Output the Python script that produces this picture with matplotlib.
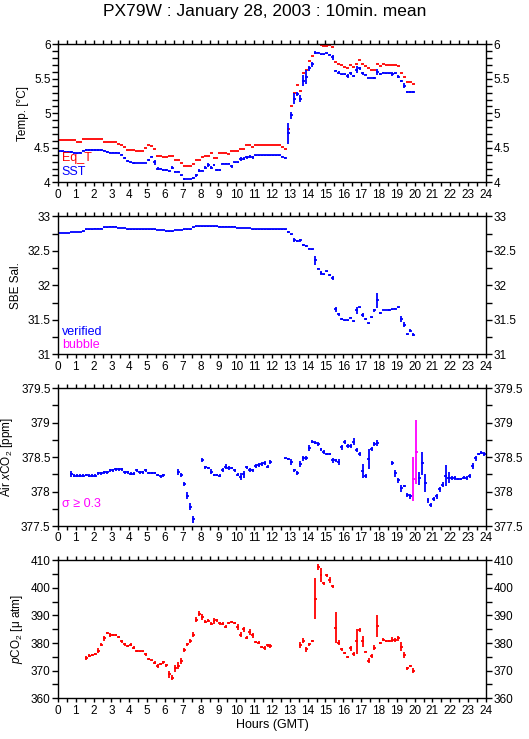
import numpy as np
import matplotlib
matplotlib.use("Agg")
import matplotlib.pyplot as plt
from matplotlib.ticker import MultipleLocator

nan = np.nan

# 10-minute bins, one row per hour (6 bins), starting at 00:00 GMT
eq_t = [
    4.61, 4.61, 4.61, 4.61, 4.61, 4.61,
    4.58, 4.58, 4.63, 4.63, 4.63, 4.63,
    4.63, 4.63, 4.63, 4.59, 4.59, 4.59,
    4.59, 4.58, 4.56, 4.54, 4.51, 4.47,
    4.47, 4.47, 4.45, 4.45, 4.45, 4.50,
    4.54, 4.52, 4.49, 4.38, 4.38, 4.36,
    4.36, 4.38, 4.38, 4.33, 4.33, 4.28,
    4.24, 4.24, 4.24, 4.26, 4.33, 4.33,
    4.36, 4.38, 4.38, 4.42, 4.35, 4.35,
    4.42, 4.42, 4.43, 4.41, 4.45, 4.45,
    4.46, 4.49, 4.49, 4.54, 4.54, 4.51,
    4.54, 4.54, 4.54, 4.54, 4.54, 4.54,
    4.54, 4.54, 4.54, 4.51, 4.49, 4.78,
    5.10, 5.30, 5.41, 5.33, 5.58, 5.63,
    5.76, 5.83, 6.00, 6.00, 5.99, 5.98,
    5.98, 5.99, 5.96, 5.75, 5.72, 5.70,
    5.67, 5.65, 5.70, 5.67, 5.72, 5.78,
    5.72, 5.68, 5.65, 5.63, 5.63, 5.72,
    5.68, 5.72, 5.70, 5.705, 5.70, 5.705,
    5.68, 5.59, 5.53, 5.45, 5.45, 5.43,
]

sst = [
    4.45, 4.45, 4.44, 4.44, 4.44, 4.43,
    4.42, 4.43, 4.46, 4.47, 4.47, 4.47,
    4.47, 4.47, 4.47, 4.46, 4.44, 4.43,
    4.43, 4.43, 4.42, 4.40, 4.35, 4.31,
    4.29, 4.28, 4.28, 4.28, 4.28, 4.28,
    4.33, 4.37, 4.29, 4.20, 4.20, 4.18,
    4.18, 4.16, 4.21, 4.155, 4.155, 4.10,
    4.05, 4.05, 4.05, 4.06, 4.10, 4.17,
    4.17, 4.21, 4.25, 4.21, 4.25, 4.18,
    4.18, 4.27, 4.27, 4.27, 4.23, 4.29,
    4.29, 4.34, 4.34, 4.36, 4.37, 4.36,
    4.39, 4.39, 4.39, 4.39, 4.39, 4.39,
    4.39, 4.39, 4.39, 4.37, 4.35, 4.71,
    4.97, 5.21, 5.28, 5.21, 5.47, 5.53,
    5.65, 5.71, 5.88, 5.88, 5.855, 5.855,
    5.87, 5.85, 5.81, 5.62, 5.59, 5.565,
    5.565, 5.54, 5.58, 5.54, 5.63, 5.65,
    5.58, 5.56, 5.51, 5.51, 5.51, 5.60,
    5.57, 5.59, 5.58, 5.58, 5.57, 5.58,
    5.53, 5.47, 5.40, 5.31, 5.31, 5.31,
]

sst_err = [
    .01, .01, .01, .01, .01, .01,
    .01, .01, .01, .01, .01, .01,
    .01, .01, .01, .01, .01, .01,
    .01, .01, .01, .01, .01, .01,
    .01, .01, .005, .005, .005, .005,
    .015, .01, .04, .02, .01, .01,
    .01, .01, .02, .01, .01, .01,
    .01, .005, .005, .01, .02, .02,
    .01, .02, .03, .02, .01, .01,
    .01, .01, .01, .005, .02, .01,
    .005, .03, .02, .02, .02, .02,
    .005, .005, .005, .01, .005, .005,
    .005, .005, .01, .005, .01, .15,
    .05, .08, .03, .05, .08, .10,
    .04, .04, .02, .01, .01, .005,
    .01, .01, .04, .01, .02, .01,
    .01, .03, .02, .02, .05, .02,
    .02, .01, .005, .005, .01, .04,
    .01, .01, .01, .01, .03, .01,
    .02, .02, .04, .01, .02, .02,
]

sal = [
    32.76, 32.76, 32.76, 32.76, 32.77, 32.77,
    32.77, 32.77, 32.78, 32.81, 32.81, 32.81,
    32.82, 32.82, 32.82, 32.84, 32.84, 32.85,
    32.85, 32.85, 32.83, 32.83, 32.83, 32.81,
    32.81, 32.81, 32.81, 32.81, 32.81, 32.81,
    32.81, 32.81, 32.81, 32.80, 32.80, 32.80,
    32.78, 32.78, 32.78, 32.80, 32.80, 32.80,
    32.81, 32.81, 32.81, 32.84, 32.855, 32.855,
    32.855, 32.855, 32.855, 32.855, 32.855, 32.855,
    32.85, 32.85, 32.85, 32.85, 32.85, 32.85,
    32.83, 32.83, 32.83, 32.83, 32.83, 32.81,
    32.81, 32.81, 32.81, 32.81, 32.81, 32.81,
    32.81, 32.81, 32.81, 32.81, 32.81, 32.77,
    32.74, 32.66, 32.64, 32.65, 32.585, 32.57,
    32.53, 32.52, 32.36, 32.24, 32.18, 32.16,
    32.20, 32.15, 32.11, 31.65, 31.58, 31.51,
    31.49, 31.49, 31.53, 31.48, 31.64, 31.68,
    31.57, 31.51, 31.45, 31.535, 31.64, 31.785,
    31.60, 31.64, 31.64, 31.64, 31.65, 31.66,
    31.68, 31.51, 31.43, 31.29, 31.34, 31.285,
]

sal_err = [.004] * 72 + [
    .004, .004, .004, .004, .004, .01,
    .01, .03, .01, .02, .01, .01,
    .01, .01, .07, .01, .03, .01,
    .005, .02, .03, .04, .02, .01,
    .005, .005, .01, .005, .05, .005,
    .03, .01, .01, .01, .02, .11,
    .01, .005, .005, .01, .01, .005,
    .005, .04, .04, .005, .02, .02,
]

air = [
    nan, nan, nan, nan, 378.255, 378.23,
    378.23, 378.23, 378.23, 378.24, 378.23, 378.23,
    378.23, 378.265, 378.265, 378.28, 378.28, 378.31,
    378.31, 378.32, 378.32, 378.32, 378.28, 378.28,
    378.26, 378.26, 378.31, 378.28, 378.28, 378.31,
    378.27, 378.27, 378.27, 378.24, 378.22, 378.235,
    nan, nan, nan, nan, 378.28, 378.245,
    378.115, 377.94, 377.78, 377.60, nan, nan,
    378.46, 378.35, 378.34, 378.29, 378.24, 378.24,
    378.23, 378.31, 378.36, 378.34, 378.34, 378.31,
    378.245, 378.215, 378.25, 378.35, 378.31, 378.31,
    378.37, 378.385, 378.395, 378.41, 378.36, 378.43,
    nan, nan, nan, nan, 378.48, 378.47,
    378.425, 378.31, 378.27, 378.40, 378.48, 378.48,
    378.63, 378.72, 378.71, 378.69, 378.61, 378.575,
    378.545, 378.545, 378.45, 378.45, 378.43, 378.64,
    378.72, 378.66, 378.66, 378.72, 378.60, 378.545,
    378.30, 378.225, 378.47, 378.62, 378.69, 378.70,
    nan, nan, nan, nan, 378.41, 378.265,
    378.16, 378.05, 378.08, 377.95, 377.93, 378.18,
    378.57, 378.19, 378.41, 378.12, 377.87, 377.80,
    377.89, 377.93, 378.03, 378.10, 378.23, 378.20,
    378.20, 378.20, 378.18, 378.18, 378.20, 378.20,
    378.225, 378.37, 378.48, 378.545, 378.565, 378.545,
]

air_sigma = [
    nan, nan, nan, nan, .04, .02,
    .02, .02, .02, .02, .02, .02,
    .02, .02, .02, .02, .02, .02,
    .02, .02, .02, .02, .02, .02,
    .02, .02, .02, .02, .02, .02,
    .02, .02, .02, .02, .02, .02,
    nan, nan, nan, nan, .04, .03,
    .03, .05, .05, .05, nan, nan,
    .03, .02, .02, .03, .02, .02,
    .02, .03, .04, .03, .02, .02,
    .02, .05, .05, .02, .03, .02,
    .03, .03, .03, .03, .02, .03,
    nan, nan, nan, nan, .01, .02,
    .04, .02, .03, .04, .04, .03,
    .04, .02, .02, .03, .02, .03,
    .02, .02, .03, .02, .04, .04,
    .03, .03, .03, .05, .03, .03,
    .10, .03, .15, .03, .03, .04,
    nan, nan, nan, nan, .03, .05,
    .03, .05, .02, .03, .04, .32,
    .46, .10, .17, .13, .04, .03,
    .03, .04, .03, .04, .15, .08,
    .03, .03, .02, .02, .02, .03,
    .03, .05, .04, .02, .02, .03,
]

pco2 = [
    nan, nan, nan, nan, nan, nan,
    nan, nan, nan, 374.7, 375.5, 375.65,
    376.0, 377.3, 379.4, 381.7, 383.8, 382.9,
    382.8, 382.8, 382.2, 380.6, 379.5, 379.0,
    379.4, 378.4, 377.2, 377.0, 377.0, 375.9,
    374.1, 373.7, 372.9, 371.6, 372.5, 373.0,
    372.0, 368.7, 367.5, 370.8, 371.8, 373.6,
    377.6, 379.5, 380.8, 383.1, 388.5, 390.7,
    389.5, 387.8, 388.1, 387.1, 388.1, 388.3,
    387.2, 387.1, 386.0, 387.3, 387.7, 387.3,
    385.9, 383.1, 385.0, 381.9, 384.1, 382.8,
    380.5, 380.2, 378.6, 378.2, 379.2, 378.9,
    nan, nan, nan, nan, nan, nan,
    nan, nan, nan, 379.3, 380.8, 377.7,
    379.6, 380.9, 396.1, 407.6, 404.6, 401.6,
    404.5, 402.8, 400.6, 385.6, 380.2, 377.7,
    376.3, 375.0, 378.1, 376.0, 380.7, 384.8,
    380.7, 376.9, 373.6, 375.4, 378.4, 386.1,
    380.0, 381.3, 380.9, 380.9, 381.3, 381.1,
    381.7, 378.7, 375.6, 370.8, 371.6, 370.0,
]

pco2_err = [
    nan, nan, nan, nan, nan, nan,
    nan, nan, nan, .8, .4, .4,
    .4, .8, .6, 1.0, .4, .8,
    .4, .4, .4, .4, .4, .4,
    .6, .4, .4, .3, .3, .5,
    .4, .3, .6, .8, .4, .4,
    .6, 1.2, 1.0, 1.2, 1.2, 1.0,
    .7, .5, .7, .8, 1.0, .8,
    1.0, .5, .6, .6, 1.0, .6,
    .5, .5, .7, .5, .4, .4,
    1.0, 1.0, 1.0, .5, 1.0, 1.0,
    .4, .4, .5, .6, .5, .8,
    nan, nan, nan, nan, nan, nan,
    nan, nan, nan, 1.1, .9, 1.0,
    .5, .4, 7.5, 1.2, 2.5, .6,
    .5, 1.2, .5, 5.5, .8, .6,
    .4, .4, 1.0, .8, 4.5, .6,
    2.0, .3, .9, .7, 1.0, 4.0,
    .3, .4, .4, .4, .8, .8,
    .8, 1.6, 1.0, .5, .4, .8,
]

SIGMA_LIMIT = 0.3
BIN = 1 / 6  # 10 minutes in hours

plt.rcParams['font.family'] = ['Liberation Sans', 'DejaVu Sans']
plt.rcParams['mathtext.fontset'] = 'custom'
plt.rcParams['mathtext.rm'] = 'Liberation Sans'
plt.rcParams['mathtext.it'] = 'Liberation Sans:italic'
plt.rcParams['font.size'] = 8.5


def bins(vals):
    v = np.asarray(vals, dtype=float)
    t = np.arange(len(v)) * BIN + BIN / 2
    return t, v


def draw(ax, vals, errs, color):
    t, v = bins(vals)
    e = np.asarray(errs, dtype=float)
    m = ~np.isnan(v)
    ax.errorbar(t[m], v[m], xerr=BIN / 2, yerr=e[m], fmt='none',
                ecolor=color, elinewidth=1.3, capsize=0)


def style(ax, ylo, yhi, ymaj, ymin):
    ax.set_xlim(0, 24)
    ax.set_ylim(ylo, yhi)
    ax.xaxis.set_major_locator(MultipleLocator(1))
    ax.xaxis.set_minor_locator(MultipleLocator(0.5))
    ax.yaxis.set_major_locator(MultipleLocator(ymaj))
    ax.yaxis.set_minor_locator(MultipleLocator(ymin))
    ax.tick_params(which='both', direction='out', top=True, right=True,
                   labelright=True, width=1.0)
    ax.tick_params(axis='x', which='both', length=3.1, pad=1.5)
    ax.tick_params(axis='y', which='both', length=4.3, pad=1)
    ax.yaxis.set_major_formatter(plt.FuncFormatter(lambda v, p: f'{v:g}'))
    for s in ax.spines.values():
        s.set_linewidth(1.0)


fig = plt.figure(figsize=(5.29, 7.39), dpi=100)
left, width, height = 0.1096, 0.809, 0.1867
bottoms = [0.7533, 0.5206, 0.2882, 0.0551]
axes = [fig.add_axes([left, b, width, height]) for b in bottoms]

# Temperatures
ax = axes[0]
draw(ax, eq_t, [0.0] * len(eq_t), 'red')
draw(ax, sst, sst_err, 'blue')
style(ax, 4, 6, 0.5, 0.1)
ax.set_ylabel('Temp. [°C]')
ax.text(0.009, 0.176, 'Eq_T', color='red', transform=ax.transAxes,
        va='center', ha='left', fontsize=9)
ax.text(0.009, 0.075, 'SST', color='blue', transform=ax.transAxes,
        va='center', ha='left', fontsize=9)

# Salinity
ax = axes[1]
draw(ax, sal, sal_err, 'blue')
style(ax, 31, 33, 0.5, 0.25)
ax.set_ylabel('SBE Sal.')
ax.text(0.009, 0.164, 'verified', color='blue', transform=ax.transAxes,
        va='center', ha='left', fontsize=9)
ax.text(0.009, 0.065, 'bubble', color='magenta', transform=ax.transAxes,
        va='center', ha='left', fontsize=9)

# Air xCO2, points with sigma >= 0.3 in magenta
ax = axes[2]
a = np.asarray(air, dtype=float)
s = np.asarray(air_sigma, dtype=float)
big = s >= SIGMA_LIMIT
draw(ax, np.where(big, nan, a), s, 'blue')
draw(ax, np.where(big, a, nan), s, 'magenta')
style(ax, 377.5, 379.5, 0.5, 0.25)
ax.set_ylabel('Air $\\mathit{x}$CO$_2$ [ppm]')
ax.text(0.009, 0.16, 'σ ≥ 0.3', color='magenta', transform=ax.transAxes,
        va='center', ha='left', fontsize=9)

# pCO2
ax = axes[3]
draw(ax, pco2, pco2_err, 'red')
style(ax, 360, 410, 10, 5)
ax.set_ylabel('$\\mathit{p}$CO$_2$ [μ atm]')
ax.set_xlabel('Hours (GMT)', fontsize=9, labelpad=2)

fig.text(0.5, 0.984, 'PX79W : January 28, 2003 : 10min. mean',
         ha='center', va='center', fontsize=12.5)

fig.savefig('out.png', dpi=100)
